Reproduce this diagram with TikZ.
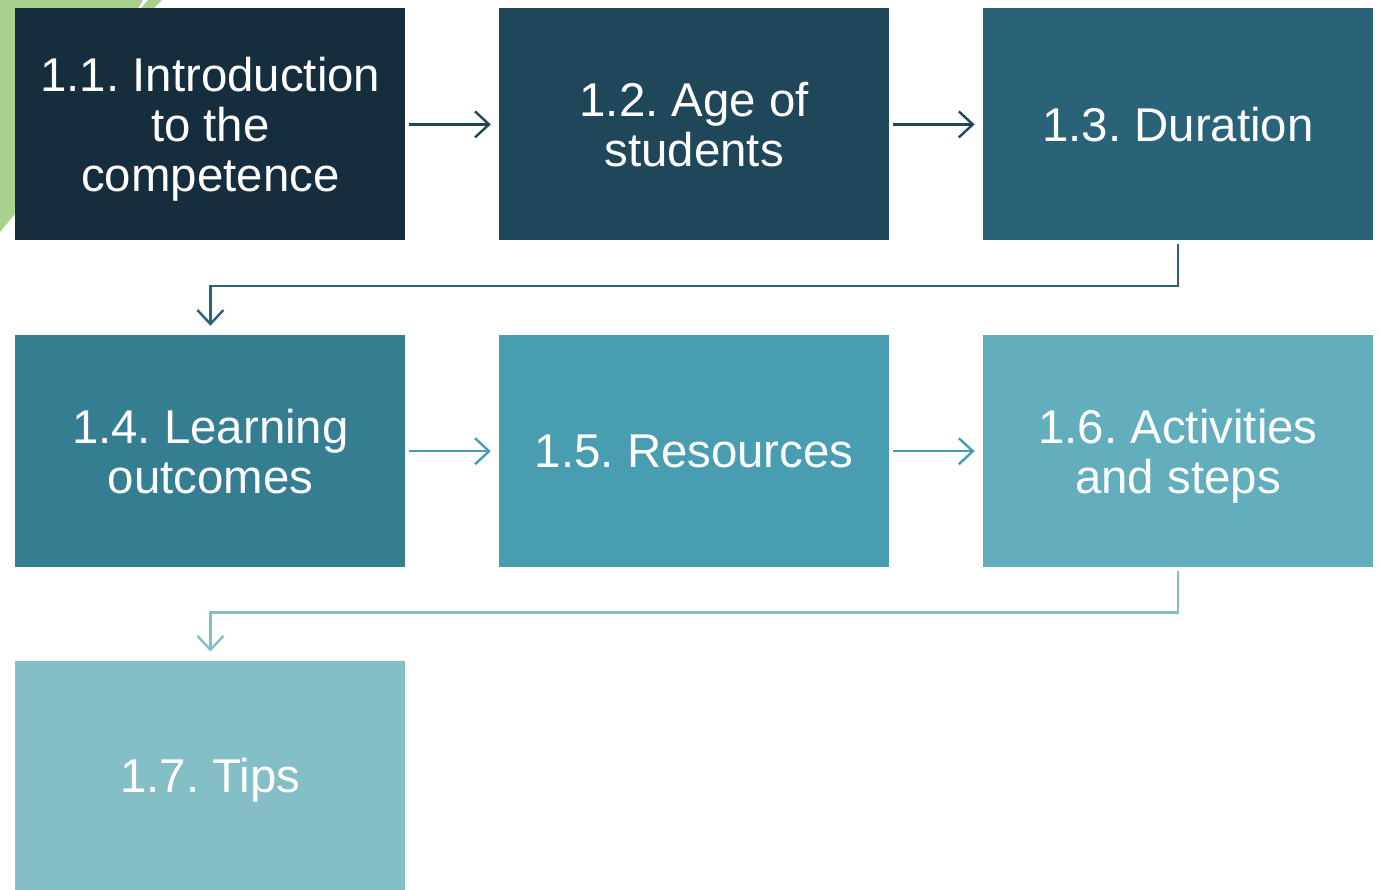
\documentclass[tikz,border=0pt]{standalone}
\usepackage{fontspec}
\setmainfont{Liberation Sans}
\frenchspacing
\usetikzlibrary{positioning,arrows.meta}

\definecolor{leaf}{HTML}{A9D18E}
\definecolor{c1}{HTML}{152D3D}
\definecolor{c2}{HTML}{1F4759}
\definecolor{c3}{HTML}{2A6278}
\definecolor{c4}{HTML}{357D91}
\definecolor{c5}{HTML}{489DB1}
\definecolor{c6}{HTML}{62AEBD}
\definecolor{c7}{HTML}{84BFC7}
% last line without depth, so descenders do not lift the text
\newcommand{\nodp}[1]{\raisebox{0pt}[\height][0pt]{#1}}

\begin{document}
\begin{tikzpicture}[
			node distance=46.5pt and 46.5pt,
			stepbox/.style = {fill=#1, text=white, align=center, inner sep=0pt,
				minimum width=195pt, minimum height=116pt,
				font=\fontsize{23.7pt}{25pt}\selectfont},
			link/.style = {draw=#1, line width=1.2pt, -{Straight Barb[length=7pt, width=13pt, line width=1.2pt]}}
		]
		\useasboundingbox (0,0) rectangle (690pt,-444.5pt);
		% Green corner behind the first box.
		\fill[leaf] (0,0) -- (71.5pt,0) -- (7.5pt,-107pt) -- (0,-116pt) -- cycle;
		\fill[leaf] (74pt,0) -- (81pt,0) -- (75pt,-6pt) -- (69pt,-6pt) -- cycle;
		% Row 1.
		\node[stepbox=c1, anchor=north west] (intro) at (7.5pt,-4pt) {1.1. Introduction\\to the\\\nodp{competence}};
		\node[stepbox=c2, right=of intro] (age) {1.2. Age of\\students};
		\node[stepbox=c3, right=of age] (dur) {1.3. Duration};
		% Row 2.
		\node[stepbox=c4, below=47pt of intro] (lo) {1.4. Learning\\outcomes};
		\node[stepbox=c5, right=of lo] (res) {1.5. Resources};
		\node[stepbox=c6, right=of res] (act) {1.6. Activities\\\nodp{and steps}};
		% Row 3.
		\node[stepbox=c7, minimum height=114.5pt, anchor=north] (tips) at ([yshift=-46.5pt]lo.south) {\nodp{1.7. Tips}};

		\draw[link=c2, shorten <=1.5pt, shorten >=4pt] (intro) -- (age);
		\draw[link=c2, shorten <=1.5pt, shorten >=4pt] (age) -- (dur);
		\draw[link=c3, shorten <=1.5pt, shorten >=4.5pt] (dur.south) -- ++(0,-22.5pt) -| (lo.north);
		\draw[link=c5, shorten <=1.5pt, shorten >=4pt] (lo) -- (res);
		\draw[link=c5, shorten <=1.5pt, shorten >=4pt] (res) -- (act);
		\draw[link=c7, shorten <=1.5pt, shorten >=4.5pt] (act.south) -- ++(0,-22.5pt) -| (tips.north);
	\end{tikzpicture}
\end{document}
